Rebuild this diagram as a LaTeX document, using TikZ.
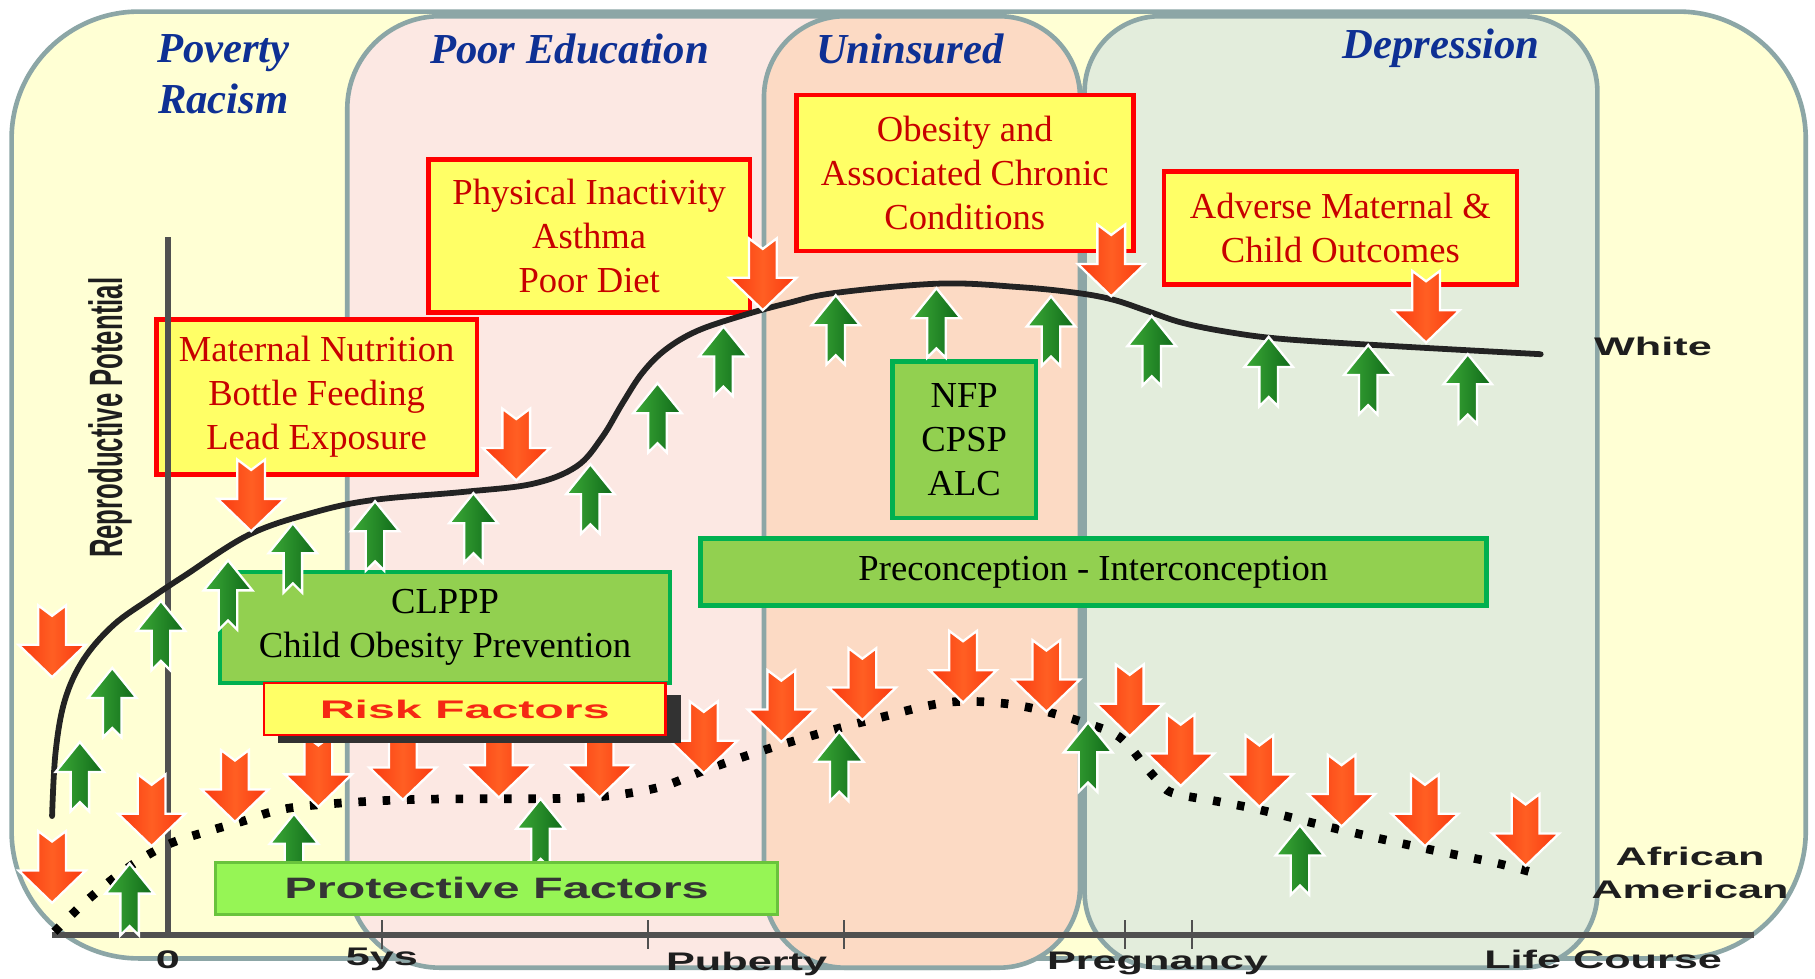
\documentclass[tikz,border=0pt]{standalone}
\usepackage{fontspec}
\setmainfont{Liberation Serif}
\setsansfont{Liberation Sans}
\usepackage{graphicx}
\usepackage{tikz}

\definecolor{outeryellow}{RGB}{255,255,212}
\definecolor{educationpink}{RGB}{252,232,227}
\definecolor{uninsuredpeach}{RGB}{252,218,196}
\definecolor{depressiongreen}{RGB}{227,237,220}
\definecolor{panelgray}{RGB}{140,166,166}
\definecolor{titleblue}{RGB}{14,48,148}
\definecolor{boxyellow}{RGB}{255,255,102}
\definecolor{boxred}{RGB}{200,0,0}
\definecolor{actionfill}{RGB}{146,208,80}
\definecolor{actionborder}{RGB}{0,176,80}
\definecolor{protectfill}{RGB}{150,245,85}
\definecolor{protectborder}{RGB}{105,195,60}
\definecolor{riskorange}{RGB}{245,40,20}
\definecolor{axisgray}{RGB}{80,80,80}
\definecolor{labelgray}{RGB}{30,30,30}
\definecolor{curveblack}{RGB}{35,35,35}
\definecolor{shadowgray}{RGB}{50,50,50}
\definecolor{arrowred}{RGB}{250,55,15}
\definecolor{arroworange}{RGB}{255,95,35}
\definecolor{arrowgreen}{RGB}{15,105,25}
\definecolor{arrowlight}{RGB}{60,170,55}

\tikzset{
	panel/.style={draw=panelgray, line width=0.08cm},
	heading/.style={font=\fontsize{21}{25}\selectfont\bfseries\itshape, text=titleblue, align=center},
	riskbox/.style={draw=red, line width=0.08cm, fill=boxyellow, text=boxred, align=center, inner sep=0pt, font=\fontsize{18}{21.6}\selectfont},
	actionbox/.style={draw=actionborder, line width=0.08cm, fill=actionfill, align=center, inner sep=0pt, font=\fontsize{18}{21.6}\selectfont},
	axislabel/.style={font=\fontsize{12.5}{16}\selectfont\sffamily\bfseries, text=labelgray, align=center, inner sep=0pt},
	axisline/.style={draw=axisgray, line width=0.1cm},
	riskarrow/.style={draw=white, line width=0.04cm, left color=arrowred, right color=arrowred, middle color=arroworange},
	protectarrow/.style={draw=white, line width=0.04cm, left color=arrowlight, right color=arrowgreen},
}

\newcommand{\widetext}[1]{\scalebox{1.7}[1]{#1}}
\newcommand{\riskdown}[3][62] % [longueur]{x}{y} pointe en bas
{
	\draw [riskarrow] (#2,#3) -- (#2-29,#3-28) -- (#2-12,#3-28) -- (#2-12,#3-#1) -- (#2,#3-#1+9) -- (#2+12,#3-#1) -- (#2+12,#3-28) -- (#2+29,#3-28) -- cycle;
}
\newcommand{\protectup}[3][60] % [longueur]{x}{y} pointe en haut
{
	\draw [protectarrow] (#2,#3) -- (#2-21,#3+26) -- (#2-8,#3+26) -- (#2-8,#3+#1) -- (#2,#3+#1-8) -- (#2+8,#3+#1) -- (#2+8,#3+26) -- (#2+21,#3+26) -- cycle;
}

\begin{document}
\begin{tikzpicture}[x=0.02cm, y=-0.02cm]
	\useasboundingbox (0,0) rectangle (1568,845);
	\fill [white] (0,0) rectangle (1568,845);

	% panels
	\draw [panel, fill=outeryellow, rounded corners=2.2cm] (10,10) rectangle (1560,828);
	\draw [panel, fill=educationpink, rounded corners=1.6cm] (300,14) rectangle (935,836);
	\draw [panel, fill=uninsuredpeach, rounded corners=1.4cm] (660,14) rectangle (933,836);
	\draw [panel, fill=depressiongreen, rounded corners=1.3cm] (937,14) rectangle (1380,836);

	\node [heading] (povertytitle) at (193,64) {Poverty\\Racism};
	\node [heading] (educationtitle) at (492,42) {Poor Education};
	\node [heading] (uninsuredtitle) at (786,42) {Uninsured};
	\node [heading] (depressiontitle) at (1245,42) {Depression};

	% boxes
	\node [riskbox, minimum width=5.54cm, minimum height=2.68cm] (maternal) at (273.5,343) {Maternal Nutrition\\Bottle Feeding\\Lead Exposure};
	\node [riskbox, minimum width=5.56cm, minimum height=2.64cm] (inactivity) at (509,204) {Physical Inactivity\\Asthma\\Poor Diet};
	\node [riskbox, minimum width=5.82cm, minimum height=2.7cm] (obesity) at (833.5,149.5) {Obesity and\\Associated Chronic\\Conditions};
	\node [riskbox, minimum width=6.1cm, minimum height=1.96cm] (adverse) at (1158,197) {Adverse Maternal \&\\Child Outcomes};
	\node [actionbox, minimum width=2.48cm, minimum height=2.7cm] (nfp) at (833,380) {NFP\\CPSP\\ALC};
	\node [actionbox, minimum width=13.58cm, minimum height=1.16cm] (precon) at (944.5,494) {Preconception - Interconception};
	\node [actionbox, minimum width=7.78cm, minimum height=1.92cm] (clppp) at (384.5,542) {CLPPP\\Child Obesity Prevention};

	% axes
	\draw [axisline] (145,205) -- (145,810);
	\draw [axisline] (45,808) -- (1515,808);
	\draw [axisgray, line width=0.03cm] (330,795) -- (330,820);
	\draw [axisgray, line width=0.03cm] (560,795) -- (560,820);
	\draw [axisgray, line width=0.03cm] (729,795) -- (729,820);
	\draw [axisgray, line width=0.03cm] (972,795) -- (972,820);
	\draw [axisgray, line width=0.03cm] (1030,795) -- (1030,820);
	\node [axislabel] (zerolabel) at (145,829) {\widetext{0}};
	\node [axislabel] (fivelabel) at (330,829) {\widetext{5ys}};
	\node [axislabel] (pubertylabel) at (645,833) {\widetext{Puberty}};
	\node [axislabel] (pregnancylabel) at (1000,832) {\widetext{Pregnancy}};
	\node [axislabel] (lifelabel) at (1385,829) {\widetext{Life Course}};
	\node [rotate=90, font=\fontsize{23}{27}\selectfont\sffamily\bfseries, text=labelgray] (ylabel) at (95,361) {\scalebox{0.55}[1]{Reproductive Potential}};

	% courbes
	\draw [curveblack, line width=0.1cm, line cap=round] plot [smooth, tension=0.6] coordinates {(45,705) (48,650) (56,605) (72,570) (98,540) (130,517) (160,497) (215,462) (270,443) (322,432) (400,425) (460,418) (498,403) (520,378) (538,348) (555,322) (575,302) (602,286) (640,273) (680,262) (722,253) (812,245) (880,248) (930,253) (962,259) (992,269) (1022,279) (1062,287) (1110,293) (1204,299) (1331,306)};
	\draw [black, line width=0.15cm, dash pattern=on 0.13cm off 0.29cm] plot [smooth, tension=0.6] coordinates {(47,805) (75,778) (110,750) (144,730) (180,718) (208,710) (240,700) (278,695) (347,691) (420,690) (471,690) (521,688) (570,680) (610,665) (660,648) (714,632) (760,620) (800,610) (830,606) (870,608) (905,615) (942,626) (963,634) (976,645) (987,659) (1000,674) (1013,685) (1050,692) (1090,700) (1159,717) (1231,733) (1290,745) (1325,754)};

	% fleches
	\riskdown{45}{585}
	\riskdown{217}{459}
	\riskdown{446}{415}
	\riskdown{659}{268}
	\riskdown{960}{256}
	\riskdown{1232}{296}
	\riskdown{45}{780}
	\riskdown{131}{731}
	\riskdown{203}{710}
	\riskdown{275}{697}
	\riskdown{348}{691}
	\riskdown{431}{689}
	\riskdown{518}{689}
	\riskdown{608}{668}
	\riskdown{675}{641}
	\riskdown{745}{622}
	\riskdown{832}{607}
	\riskdown{904}{615}
	\riskdown{976}{636}
	\riskdown{1020}{679}
	\riskdown{1088}{697}
	\riskdown{1159}{714}
	\riskdown{1231}{731}
	\riskdown{1318}{748}

	\protectup{69}{641}
	\protectup{97}{577}
	\protectup{139}{519}
	\protectup{197}{484}
	\protectup{253}{452}
	\protectup{324}{433}
	\protectup{409}{426}
	\protectup{510}{401}
	\protectup{568}{331}
	\protectup{625}{282}
	\protectup{722}{255}
	\protectup{809}{249}
	\protectup{908}{256}
	\protectup{995}{273}
	\protectup{1096}{291}
	\protectup{1182}{298}
	\protectup{1268}{306}
	\protectup[62]{112}{746}
	\protectup{254}{703}
	\protectup{467}{690}
	\protectup{725}{632}
	\protectup{940}{624}
	\protectup{1123}{713}

	% facteurs
	\fill [shadowgray] (240,600) rectangle (588,642);
	\node [draw=red, line width=0.05cm, fill=boxyellow, minimum width=6.94cm, minimum height=0.9cm, inner sep=0pt, font=\fontsize{12.5}{15}\selectfont\sffamily\bfseries, text=riskorange] (risk) at (401.5,612.5) {\scalebox{1.9}[1]{Risk Factors}};
	\node [draw=protectborder, line width=0.05cm, fill=protectfill, minimum width=9.72cm, minimum height=0.9cm, inner sep=0pt, font=\fontsize{14.5}{17}\selectfont\sffamily\bfseries, text=labelgray!90] (protective) at (429,767.5) {\scalebox{1.65}[1]{Protective Factors}};

	\node [axislabel] (whitelabel) at (1428,299) {\widetext{White}};
	\node [axislabel] (africanlabel) at (1460,754) {\widetext{African}\\\widetext{American}};
\end{tikzpicture}
\end{document}
